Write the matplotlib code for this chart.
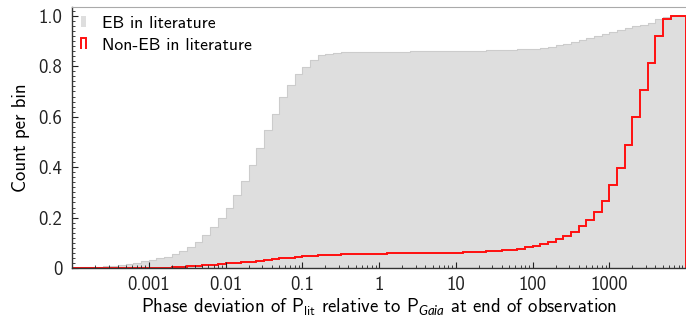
import numpy as np
import matplotlib
matplotlib.use("Agg")
import matplotlib.pyplot as plt
import matplotlib.patches as mpatches
from matplotlib.legend_handler import HandlerPatch
from matplotlib.ticker import AutoMinorLocator, FixedLocator, FixedFormatter

plt.rcParams['font.family'] = ['cmss10', 'DejaVu Sans']
plt.rcParams['mathtext.fontset'] = 'custom'
plt.rcParams['mathtext.rm'] = 'cmss10'
plt.rcParams['mathtext.it'] = 'Lato:italic'
plt.rcParams['axes.unicode_minus'] = False

# log bins, 10 per decade from 1e-4 to 1e4
bin_edges = np.logspace(-4, 4, 81)

# cumulative fraction per bin
eb_cum = [
    0.002, 0.003, 0.003, 0.005, 0.007,
    0.010, 0.013, 0.017, 0.022, 0.027, 0.033, 0.038, 0.045, 0.056, 0.067,
    0.085, 0.102, 0.131, 0.161, 0.197, 0.239, 0.290, 0.347, 0.409, 0.475,
    0.548, 0.611, 0.677, 0.726, 0.770, 0.799, 0.823, 0.843, 0.849, 0.854,
    0.856, 0.856, 0.857, 0.857, 0.857, 0.858, 0.858, 0.858, 0.858,
    0.859, 0.859, 0.859, 0.860, 0.860, 0.860, 0.861, 0.861, 0.861,
    0.862, 0.863, 0.864, 0.865, 0.866, 0.868, 0.869,
    0.870, 0.874, 0.878, 0.884, 0.890, 0.897, 0.903, 0.911, 0.921, 0.929,
    0.937, 0.944, 0.951, 0.958, 0.964, 0.973, 0.987, 0.997, 1.000, 1.000,
]
non_eb_cum = [
    0.001, 0.001, 0.001, 0.001, 0.001, 0.001, 0.001,
    0.002, 0.002, 0.002, 0.002, 0.002, 0.002,
    0.004, 0.005, 0.007, 0.009, 0.011, 0.013, 0.016, 0.019, 0.021, 0.024,
    0.026, 0.029, 0.032, 0.035, 0.038, 0.041, 0.044, 0.047, 0.049, 0.051,
    0.052, 0.053,
    0.054, 0.055,
    0.056, 0.057, 0.057, 0.057, 0.058, 0.058, 0.058, 0.058,
    0.060, 0.060, 0.061, 0.061, 0.061, 0.061,
    0.063, 0.064, 0.065,
    0.067, 0.069, 0.071, 0.073,
    0.077, 0.082, 0.088, 0.094, 0.104, 0.115, 0.127, 0.144, 0.167, 0.190,
    0.223, 0.266, 0.328, 0.396, 0.488, 0.598, 0.704, 0.812, 0.922, 0.987,
    0.998, 1.000,
]

xtick_vals = [1e-3, 1e-2, 1e-1, 1, 10, 100, 1000]
xtick_labels = ['0.001', '0.01', '0.1', '1', '10', '100', '1000']
ytick_vals = [0, 0.2, 0.4, 0.6, 0.8, 1.0]
ytick_labels = ['0', '0.2', '0.4', '0.6', '0.8', '1.0']


def open_step_handle(legend, orig_handle, xdescent, ydescent, width, height, fontsize):
    x0, x1 = -xdescent, -xdescent + width
    y0, y1 = -ydescent, -ydescent + height
    return mpatches.Polygon([[x0, y0], [x0, y1], [x1, y1], [x1, y0]],
                            closed=False, fill=False)


fig = plt.figure(figsize=(6.86, 3.18), dpi=100)
ax = fig.add_axes([0.105, 0.157, 0.895, 0.821])

ax.stairs(eb_cum, bin_edges, fill=True, color='#dedede', label='EB in literature')
ax.stairs(eb_cum, bin_edges, fill=False, color='#cccccc', lw=0.8)
red = ax.stairs(non_eb_cum, bin_edges, fill=False, color='#ff1010', lw=1.4,
                label='Non-EB in literature')

ax.set_xscale('log')
ax.set_xlim(1e-4, 1e4)
ax.set_ylim(0, 1.035)

ax.xaxis.set_major_locator(FixedLocator(xtick_vals))
ax.xaxis.set_major_formatter(FixedFormatter(xtick_labels))
ax.yaxis.set_major_locator(FixedLocator(ytick_vals))
ax.yaxis.set_major_formatter(FixedFormatter(ytick_labels))
ax.yaxis.set_minor_locator(AutoMinorLocator(10))
ax.tick_params(which='both', direction='in', labelsize=13.5, colors='#222222')
ax.tick_params(which='major', length=4, width=0.8)
ax.tick_params(which='minor', length=2, width=0.6)
ax.tick_params(axis='x', pad=6)
ax.tick_params(axis='y', pad=7)

for s in ['left', 'bottom']:
    ax.spines[s].set_color('#333333')
    ax.spines[s].set_linewidth(1.0)
ax.spines['top'].set_color('#aaaaaa')
ax.spines['right'].set_visible(False)

ax.set_xlabel('Phase deviation of P$_{\\rm lit}$ relative to P$_{Gaia}$ at end of observation',
              fontsize=13.5, labelpad=1)
ax.set_ylabel('Count per bin', fontsize=13.5, labelpad=6)

ax.legend(loc='upper left', frameon=False, fontsize=12.7, handlelength=0.3,
          handleheight=0.6, handletextpad=0.9, borderaxespad=0.1, labelspacing=0.4,
          handler_map={red: HandlerPatch(patch_func=open_step_handle)})

fig.savefig('out.png', dpi=100)
